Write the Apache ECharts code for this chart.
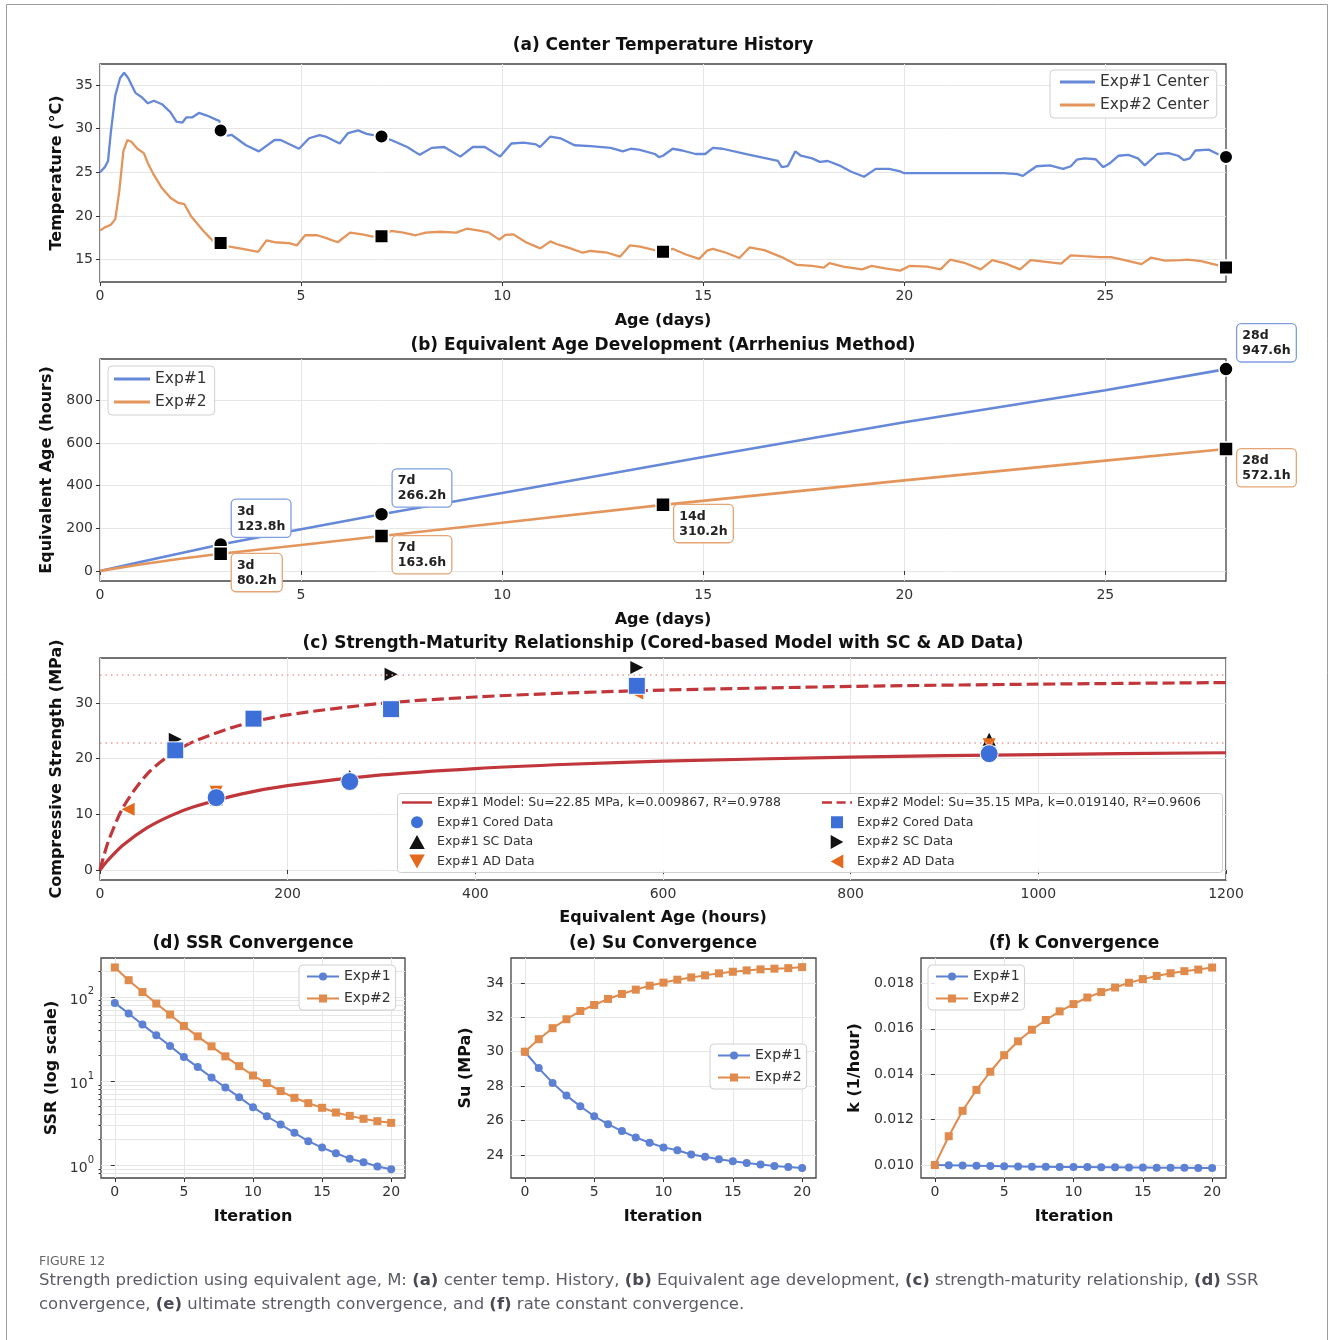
<!DOCTYPE html>
<html><head><meta charset="utf-8">
<script src="https://cdn.jsdelivr.net/npm/echarts@6/dist/echarts.min.js"></script>
<style>html,body{margin:0;padding:0;background:#fff}#c{width:1330px;height:1340px}</style>
</head><body><div id="c"></div>
<script>
// ---------------- DATA ----------------
// (a) center temperature history
const tempDays1 = [0,0.12,0.2,0.27,0.38,0.5,0.6,0.7,0.88,1.04,1.19,1.34,1.54,1.75,1.9,2.05,2.15,2.3,2.46,2.66,2.9,2.97,3.0,3.17,3.27,3.63,3.95,4.34,4.49,4.95,5.2,5.46,5.61,5.96,6.17,6.42,6.63,7.0,7.24,7.64,7.95,8.25,8.56,8.96,9.27,9.57,9.95,10.23,10.54,10.84,10.94,11.2,11.45,11.8,12.2,12.7,13.0,13.2,13.4,13.8,13.9,14.0,14.24,14.48,14.81,15.05,15.24,15.48,16.1,16.86,16.95,17.1,17.29,17.43,17.71,17.9,18.1,18.38,18.67,19.0,19.29,19.62,19.9,20.0,22.48,22.81,22.95,23.1,23.29,23.62,23.95,24.14,24.29,24.48,24.76,24.95,25.1,25.33,25.57,25.81,25.98,26.29,26.57,26.81,26.95,27.1,27.24,27.57,27.79,28.0];
const tempExp1 = [25.0,25.6,26.3,29.6,33.8,35.8,36.4,35.8,34.1,33.6,32.9,33.2,32.8,31.9,30.8,30.7,31.3,31.3,31.8,31.5,31.0,30.9,29.8,29.2,29.3,28.1,27.4,28.7,28.7,27.7,28.9,29.25,29.1,28.3,29.5,29.8,29.4,29.1,28.7,27.9,27.0,27.8,27.9,26.8,27.9,27.9,26.8,28.3,28.4,28.2,27.9,29.1,28.9,28.1,28.0,27.8,27.4,27.7,27.6,27.1,26.75,26.9,27.7,27.5,27.1,27.1,27.8,27.7,27.05,26.3,25.6,25.7,27.4,26.9,26.6,26.2,26.3,25.8,25.1,24.5,25.4,25.4,25.1,24.9,24.9,24.8,24.6,25.1,25.7,25.8,25.4,25.7,26.45,26.6,26.5,25.6,26.0,26.9,27.0,26.6,25.8,27.1,27.2,26.9,26.4,26.6,27.5,27.6,27.1,26.75];
const tempDays2 = [0,0.12,0.27,0.38,0.48,0.58,0.68,0.78,0.93,1.09,1.19,1.34,1.54,1.75,1.95,2.1,2.26,2.56,2.82,3.0,3.22,3.58,3.93,4.14,4.34,4.7,4.9,5.1,5.4,5.61,5.91,6.22,6.52,6.78,7.0,7.24,7.54,7.85,8.1,8.46,8.86,9.12,9.47,9.67,9.93,10.08,10.28,10.59,10.95,11.2,11.35,11.7,12.0,12.2,12.62,12.93,13.18,13.43,13.79,14.0,14.24,14.57,14.9,15.1,15.24,15.57,15.9,16.15,16.52,16.95,17.33,17.71,18.0,18.14,18.48,18.95,19.19,19.52,19.9,20.14,20.57,20.9,21.14,21.52,21.9,22.19,22.52,22.88,23.14,23.52,23.9,24.14,24.48,24.86,25.14,25.48,25.9,26.14,26.48,26.9,27.05,27.38,27.76,28.0];
const tempExp2 = [18.35,18.7,19.0,19.65,22.85,27.4,28.7,28.5,27.7,27.2,26.05,24.7,23.2,22.1,21.5,21.35,20.0,18.35,17.1,16.9,16.5,16.2,15.9,17.2,17.0,16.9,16.65,17.8,17.8,17.5,17.0,18.1,17.9,17.65,17.7,18.3,18.1,17.8,18.1,18.2,18.1,18.55,18.3,18.1,17.3,17.85,17.9,17.0,16.3,17.1,16.8,16.3,15.8,16.0,15.8,15.35,16.65,16.5,16.1,15.9,16.25,15.6,15.1,16.05,16.25,15.8,15.2,16.4,16.1,15.3,14.4,14.3,14.1,14.6,14.2,13.9,14.3,14.0,13.75,14.3,14.2,13.9,15.0,14.6,13.9,14.95,14.55,13.9,14.95,14.75,14.55,15.5,15.4,15.3,15.3,14.95,14.5,15.25,14.9,14.95,15.0,14.85,14.4,14.1];
const tempMarkDays1 = [3, 7, 28];
const tempMark1 = [29.8, 29.1, 26.75];
const tempMarkDays2 = [3, 7, 14, 28];
const tempMark2 = [16.9, 17.7, 15.9, 14.1];

// (b) equivalent age
const eqDays1 = [0, 1, 2, 3, 5, 7, 10, 15, 20, 25, 28];
const eqAge1 = [0, 42, 83, 123.8, 196, 266.2, 366, 535, 698, 848, 947.6];
const eqDays2 = [0, 1, 2, 3, 5, 7, 10, 14, 20, 25, 28];
const eqAge2 = [0, 30, 57, 80.2, 122, 163.6, 226, 310.2, 425, 518, 572.1];
const eqMarkDays1 = [3, 7, 28];
const eqMark1 = [123.8, 266.2, 947.6];
const eqMarkDays2 = [3, 7, 14, 28];
const eqMark2 = [80.2, 163.6, 310.2, 572.1];

// (c) strength-maturity
const modelAge = [0, 5, 10, 25, 50, 75, 100, 150, 200, 300, 400, 500, 600, 800, 1000, 1200];
const model1 = [0, 1.07, 2.05, 4.52, 7.55, 9.72, 11.35, 13.64, 15.16, 17.08, 18.23, 19.0, 19.55, 20.28, 20.75, 21.07];
const model2 = [0, 3.07, 5.65, 11.37, 17.19, 20.72, 23.09, 26.07, 27.87, 29.94, 31.09, 31.82, 32.33, 32.99, 33.40, 33.68];
const suLevels = [22.85, 35.15];
const cored1Age = [123.8, 266.2, 947.6];
const cored1 = [13.0, 15.9, 20.9];
const sc1 = [12.8, 16.8, 23.5];
const ad1 = [13.95, 16.0, 22.5];
const cored2Age = [80.2, 163.6, 310.2, 572.1];
const cored2 = [21.5, 27.2, 28.9, 33.1];
const sc2 = [23.5, 27.2, 35.2, 36.4];
const ad2Age = [30, 80.2, 163.6, 310.2, 572.1];
const ad2 = [10.9, 21.3, 27.0, 28.9, 31.8];

// (d)(e)(f) convergence
const iterations = [0,1,2,3,4,5,6,7,8,9,10,11,12,13,14,15,16,17,18,19,20];
const ssr1 = [84.8,63.3,46.8,34.9,26.0,19.2,14.6,11.0,8.36,6.41,4.87,3.80,3.03,2.41,1.92,1.61,1.38,1.19,1.08,0.96,0.89];
const ssr2 = [224,158,114,83.3,61.6,45.1,33.9,25.8,19.6,15.0,11.6,9.42,7.57,6.30,5.44,4.79,4.21,3.84,3.54,3.32,3.17];
const suIter1 = [30.0,29.05,28.19,27.45,26.83,26.25,25.79,25.39,25.02,24.71,24.44,24.27,24.03,23.9,23.75,23.63,23.53,23.44,23.36,23.30,23.24];
const suIter2 = [30.0,30.73,31.37,31.89,32.37,32.72,33.07,33.36,33.61,33.84,34.02,34.19,34.32,34.44,34.56,34.65,34.73,34.79,34.83,34.86,34.92];
const kIter1 = [0.01000,0.00999,0.00998,0.00997,0.00996,0.00995,0.00994,0.00993,0.00993,0.00992,0.00991,0.00991,0.00990,0.00990,0.00989,0.00989,0.00988,0.00988,0.00988,0.00987,0.00987];
const kIter2 = [0.0100,0.01127,0.01239,0.01331,0.01411,0.01484,0.01545,0.01596,0.01639,0.01677,0.01709,0.01738,0.01762,0.01782,0.01803,0.01819,0.01833,0.01845,0.01854,0.01861,0.01870];

// tick labels
const ticksAx = [0, 5, 10, 15, 20, 25];
const ticksAy = [15, 20, 25, 30, 35];
const ticksBy = [0, 200, 400, 600, 800];
const ticksCx = [0, 200, 400, 600, 800, 1000, 1200];
const ticksCy = [0, 10, 20, 30];
const ticksIter = [0, 5, 10, 15, 20];
const ticksDy = [1, 10, 100];
const ticksDyMinor = [0.8,0.9,2,3,4,5,6,7,8,9,20,30,40,50,60,70,80,90,200];
const ticksEy = [24, 26, 28, 30, 32, 34];
const ticksFy = [0.010, 0.012, 0.014, 0.016, 0.018];

// ---------------- STYLE ----------------
const FONT = 'DejaVu Sans';
const BLUE = '#6688d8', ORANGE = '#e4955c';
const BLUE2 = '#5b80d4', ORANGE2 = '#e08a4c';
const RED = '#c1363b';
const CORE = '#3d6fd8', ADC = '#e4691c';
const zip = (a, b) => a.map((v, i) => [v, b[i]]);
const LINE_ICON = 'path://M0,0H34V2.8H0Z';
const DASH_ICON = 'path://M0,0H11V3H0Z M16,0H26V3H16Z M31,0H33V3H31Z';
const UP = 'path://M5,0L10,9L0,9Z';
const DOWN = 'path://M0,0L10,0L5,9Z';
const LEFT = 'path://M9,0L9,10L0,5Z';
const RIGHT = 'path://M0,0L9,5L0,10Z';
const SQUARE = 'path://M0,0H10V10H0Z';

const gridDefs = [
  {left:100, top:64, width:1126, height:218},
  {left:100, top:359, width:1126, height:222},
  {left:100, top:658, width:1126, height:222},
  {left:101, top:958, width:304, height:220},
  {left:511, top:958, width:305, height:220},
  {left:921, top:958, width:305, height:220}
];
const grids = gridDefs.map(g => Object.assign({}, g, {show:true, borderColor:'#444', borderWidth:1.3, backgroundColor:'transparent', containLabel:false, outerBoundsMode:'none'}));

function axis(type, gridIndex, min, max, ticks, fmt, extra) {
  const a = {
    type: type, gridIndex: gridIndex, min: min, max: max,
    axisLine: {show: false},
    axisTick: {show: true, length: 4, lineStyle: {color: '#333', width: 1}, customValues: ticks},
    axisLabel: {fontFamily: FONT, fontSize: 14, color: '#333', margin: 7, customValues: ticks, formatter: fmt},
    splitLine: {show: true, lineStyle: {color: '#e6e6e6', width: 1}},
    minorTick: {show: false}
  };
  return Object.assign(a, extra || {});
}
const num = v => String(v);

const xAxes = [
  axis('value', 0, 0, 28, ticksAx, num, {position:'bottom'}),
  axis('value', 1, 0, 28, ticksAx, num, {position:'bottom'}),
  axis('value', 2, 0, 1200, ticksCx, num, {position:'bottom'}),
  axis('value', 3, -1, 21, ticksIter, num, {position:'bottom'}),
  axis('value', 4, -1, 21, ticksIter, num, {position:'bottom'}),
  axis('value', 5, -1, 21, ticksIter, num, {position:'bottom'})
];
const yAxes = [
  axis('value', 0, 12.45, 37.4, ticksAy, num, {position:'left'}),
  axis('value', 1, -47.4, 995, ticksBy, num, {position:'left'}),
  axis('value', 2, -1.8, 38.1, ticksCy, num, {position:'left'}),
  axis('log', 3, 0.7, 290, ticksDy, v => '{b|10}{s|' + Math.round(Math.log10(v)) + '}', {logBase: 10, position:'left'}),
  axis('value', 4, 22.66, 35.45, ticksEy, num, {position:'left'}),
  axis('value', 5, 0.00943, 0.01912, ticksFy, v => v.toFixed(3), {position:'left'}),
  axis('log', 3, 0.7, 290, ticksDyMinor, () => '', {logBase: 10, position:'left', offset:0})
];
yAxes[3].axisLabel.rich = {
  b: {fontFamily: FONT, fontSize: 14, color: '#333', lineHeight: 20, verticalAlign: 'bottom'},
  s: {fontFamily: FONT, fontSize: 10, color: '#333', lineHeight: 10, verticalAlign: 'top'}
};
yAxes[6].axisTick.length = 2.5;
yAxes[6].axisLabel.show = false;

// ---------------- SERIES ----------------
const series = [];
// (a)
series.push({type:'line', name:'Exp#1 Center', xAxisIndex:0, yAxisIndex:0, data: zip(tempDays1, tempExp1), symbol:'none', lineStyle:{color:BLUE, width:2.3}, itemStyle:{color:BLUE}, z:2});
series.push({type:'line', name:'Exp#2 Center', xAxisIndex:0, yAxisIndex:0, data: zip(tempDays2, tempExp2), symbol:'none', lineStyle:{color:ORANGE, width:2.3}, itemStyle:{color:ORANGE}, z:2});
series.push({type:'scatter', name:'a-m1', xAxisIndex:0, yAxisIndex:0, data: zip(tempMarkDays1, tempMark1), symbol:'circle', symbolSize:14, itemStyle:{color:'#000', opacity:1, borderColor:'#fff', borderWidth:2}, z:3});
series.push({type:'scatter', name:'a-m2', xAxisIndex:0, yAxisIndex:0, data: zip(tempMarkDays2, tempMark2), symbol:'rect', symbolSize:14, itemStyle:{color:'#000', opacity:1, borderColor:'#fff', borderWidth:2}, z:3});
// (b)
series.push({type:'line', name:'Exp#1|b', xAxisIndex:1, yAxisIndex:1, data: zip(eqDays1, eqAge1), symbol:'none', lineStyle:{color:BLUE, width:2.6}, itemStyle:{color:BLUE}, z:2});
series.push({type:'line', name:'Exp#2|b', xAxisIndex:1, yAxisIndex:1, data: zip(eqDays2, eqAge2), symbol:'none', lineStyle:{color:ORANGE, width:2.6}, itemStyle:{color:ORANGE}, z:2});
const eqLabel = (col, pos, va) => ({
  show: true, position: pos, align: 'left', verticalAlign: va,
  formatter: p => p.value[0] + 'd\n' + p.value[1].toFixed(1) + 'h',
  fontFamily: FONT, fontSize: 12.5, fontWeight: 'bold', lineHeight: 15, color: '#222',
  backgroundColor: '#fff', borderColor: col, borderWidth: 1.3, borderRadius: 4, padding: [4, 5, 3, 5]
});
series.push({type:'scatter', name:'b-m1', xAxisIndex:1, yAxisIndex:1, data: zip(eqMarkDays1, eqMark1), symbol:'circle', symbolSize:14, itemStyle:{color:'#000', opacity:1, borderColor:'#fff', borderWidth:1.5}, label: eqLabel('#7f9ee0', [19, 0], 'bottom'), z:3});
series.push({type:'scatter', name:'b-m2', xAxisIndex:1, yAxisIndex:1, data: zip(eqMarkDays2, eqMark2), symbol:'rect', symbolSize:14, itemStyle:{color:'#000', opacity:1, borderColor:'#fff', borderWidth:1.5}, label: eqLabel('#e6a474', [19, 8], 'top'), z:3});
// (c)
const suLine = (v) => ({silent:true, symbol:'none', label:{show:false}, lineStyle:{type:[1.5, 4], color:'#f19a9a', width:1.6}, data:[{yAxis: v}]});
const M1 = 'Exp#1 Model: Su=22.85 MPa, k=0.009867, R²=0.9788';
const M2 = 'Exp#2 Model: Su=35.15 MPa, k=0.019140, R²=0.9606';
series.push({type:'line', name:M1, xAxisIndex:2, yAxisIndex:2, data: zip(modelAge, model1), smooth:0.3, symbol:'none', lineStyle:{color:RED, width:3.2}, itemStyle:{color:RED}, markLine: suLine(suLevels[0]), z:2});
series.push({type:'line', name:M2, xAxisIndex:2, yAxisIndex:2, data: zip(modelAge, model2), smooth:0.3, symbol:'none', lineStyle:{color:RED, width:3.2, type:[12, 5]}, itemStyle:{color:RED}, markLine: suLine(suLevels[1]), z:2});
const sc = (name, ages, vals, sym, size, col, z, border) => ({type:'scatter', name:name, xAxisIndex:2, yAxisIndex:2, data: zip(ages, vals), symbol:sym, symbolSize:size, itemStyle:Object.assign({color:col, opacity:1}, border ? {borderColor:'#fff', borderWidth:1} : {}), z:z});
series.push(sc('Exp#1 SC Data', cored1Age, sc1, UP, 13, '#111', 3));
series.push(sc('Exp#2 SC Data', cored2Age, sc2, RIGHT, 13, '#111', 3));
series.push(sc('Exp#1 AD Data', cored1Age, ad1, DOWN, 13, ADC, 4));
series.push(sc('Exp#2 AD Data', ad2Age, ad2, LEFT, 13, ADC, 4));
series.push(sc('Exp#1 Cored Data', cored1Age, cored1, 'circle', 18, CORE, 5, true));
series.push(sc('Exp#2 Cored Data', cored2Age, cored2, 'rect', 17, CORE, 5, true));
// (d)(e)(f)
const conv = (name, xi, yi, ys, col, sym) => ({type:'line', name:name, xAxisIndex:xi, yAxisIndex:yi, data: zip(iterations, ys), symbol:sym, symbolSize:8, showSymbol:true, lineStyle:{color:col, width:2}, itemStyle:{color:col, opacity:1}, z:3});
series.push(conv('Exp#1|d', 3, 3, ssr1, BLUE2, 'circle'));
series.push(conv('Exp#2|d', 3, 3, ssr2, ORANGE2, 'rect'));
series.push(conv('Exp#1|e', 4, 4, suIter1, BLUE2, 'circle'));
series.push(conv('Exp#2|e', 4, 4, suIter2, ORANGE2, 'rect'));
series.push(conv('Exp#1|f', 5, 5, kIter1, BLUE2, 'circle'));
series.push(conv('Exp#2|f', 5, 5, kIter2, ORANGE2, 'rect'));

// ---------------- LEGENDS ----------------
const legBase = (left, top, fs, lh, iw, ih, gap, pad, data, box) => Object.assign({
  orient:'vertical', left:left, top:top, itemWidth:iw, itemHeight:ih, itemGap:gap, padding:pad,
  textStyle:{fontFamily:FONT, fontSize:fs, lineHeight:lh, color:'#333'},
  formatter: n => n.split('|')[0], selectedMode:false, data:data
}, box ? {backgroundColor:'rgba(255,255,255,0.85)', borderColor:'#d0d0d0', borderWidth:1, borderRadius:4} : {});
const legends = [
  legBase(1050, 70, 15.5, 18, 35, 14, 5, [3, 8, 4, 10], [{name:'Exp#1 Center', icon:LINE_ICON}, {name:'Exp#2 Center', icon:LINE_ICON}], true),
  legBase(108, 366, 15.5, 18, 36, 14, 5, [4, 8, 4, 6], [{name:'Exp#1|b', icon:LINE_ICON}, {name:'Exp#2|b', icon:LINE_ICON}], true),
  legBase(402, 795, 12.5, 15, 30, 14, 4.3, 0, [{name:M1, icon:LINE_ICON}, {name:'Exp#1 Cored Data', icon:'circle'}, {name:'Exp#1 SC Data', icon:UP}, {name:'Exp#1 AD Data', icon:DOWN}], false),
  legBase(822, 795, 12.5, 15, 30, 14, 4.3, 0, [{name:M2, icon:DASH_ICON}, {name:'Exp#2 Cored Data', icon:SQUARE}, {name:'Exp#2 SC Data', icon:RIGHT}, {name:'Exp#2 AD Data', icon:LEFT}], false),
  legBase(299, 965, 14, 17, 32, 10, 5, [3, 5, 3, 7], ['Exp#1|d', 'Exp#2|d'], true),
  legBase(710, 1044, 14, 17, 32, 10, 5, [3, 5, 3, 7], ['Exp#1|e', 'Exp#2|e'], true),
  legBase(928, 965, 14, 17, 32, 10, 5, [3, 5, 3, 7], ['Exp#1|f', 'Exp#2|f'], true)
];

// ---------------- TEXT (titles, axis names, caption) ----------------
const T = (text, x, y, size, rot) => ({type:'text', x:x, y:y, rotation: rot ? Math.PI/2 : 0, silent:true, z:10,
  style:{text:text, fontFamily:FONT, fontSize:size, fontWeight:'bold', fill:'#111', align:'center', verticalAlign:'middle'}});
const texts = [
  T('(a) Center Temperature History', 663, 46, 17),
  T('(b) Equivalent Age Development (Arrhenius Method)', 663, 346, 17),
  T('(c) Strength-Maturity Relationship (Cored-based Model with SC & AD Data)', 663, 644, 17),
  T('(d) SSR Convergence', 253, 944, 17),
  T('(e) Su Convergence', 663, 944, 17),
  T('(f) k Convergence', 1074, 944, 17),
  T('Age (days)', 663, 321, 16),
  T('Age (days)', 663, 620, 16),
  T('Equivalent Age (hours)', 663, 918, 16),
  T('Iteration', 253, 1217, 16),
  T('Iteration', 663, 1217, 16),
  T('Iteration', 1074, 1217, 16),
  T('Temperature (°C)', 57, 173, 16, true),
  T('Equivalent Age (hours)', 47, 470, 16, true),
  T('Compressive Strength (MPa)', 57, 769, 16, true),
  T('SSR (log scale)', 52, 1068, 16, true),
  T('Su (MPa)', 466, 1068, 16, true),
  T('k (1/hour)', 855, 1068, 16, true)
];
const CAP = 'DejaVu Sans';
const capRich = {b: {fontFamily: CAP, fontSize: 16.5, fontWeight: 'bold', fill: '#4a4a55'}};
const graphics = [
  {type:'rect', silent:true, z:0, shape:{x:6.5, y:4.5, width:1321, height:1345}, style:{fill:'none', stroke:'#9c9c9c', lineWidth:1}},
  {type:'rect', silent:true, z:3, shape:{x:397.5, y:793.5, width:825, height:79, r:3}, style:{fill:'rgba(255,255,255,0.9)', stroke:'#d0d0d0', lineWidth:1}},
  {type:'text', x:39, y:1262, silent:true, style:{text:'FIGURE 12', fontFamily:CAP, fontSize:12.5, fill:'#666', align:'left', verticalAlign:'middle'}},
  {type:'text', x:39, y:1281, silent:true, style:{text:'Strength prediction using equivalent age, M: {b|(a)} center temp. History, {b|(b)} Equivalent age development, {b|(c)} strength-maturity relationship, {b|(d)} SSR', fontFamily:CAP, fontSize:16.5, fill:'#5c5c68', align:'left', verticalAlign:'middle', rich:capRich}},
  {type:'text', x:39, y:1305, silent:true, style:{text:'convergence, {b|(e)} ultimate strength convergence, and {b|(f)} rate constant convergence.', fontFamily:CAP, fontSize:16.5, fill:'#5c5c68', align:'left', verticalAlign:'middle', rich:capRich}}
].concat(texts);

const chart = echarts.init(document.getElementById('c'), null, {renderer:'canvas'});
chart.setOption({
  animation:false,
  backgroundColor:'#fff',
  textStyle:{fontFamily:FONT},
  grid: grids,
  xAxis: xAxes,
  yAxis: yAxes,
  legend: legends,
  series: series,
  graphic: {elements: graphics}
});
</script></body></html>
